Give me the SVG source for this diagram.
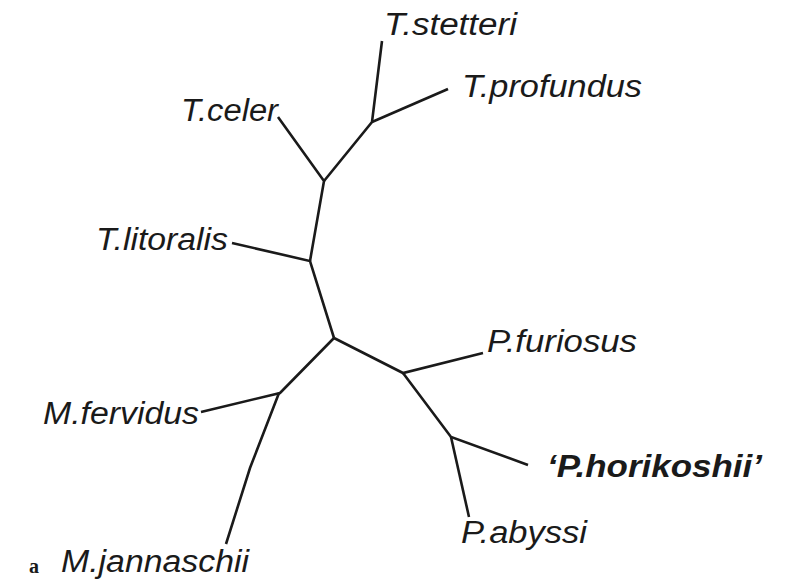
<svg xmlns="http://www.w3.org/2000/svg" width="785" height="580" viewBox="0 0 785 580">
<style>
.b{stroke:#1a1a1a;stroke-width:2.6;fill:none;stroke-linecap:butt;stroke-linejoin:miter}
.t{font-family:"Liberation Sans",Arial,sans-serif;font-style:italic;font-size:31px;fill:#1a1a1a}
.hb{font-weight:bold}
.p{font-family:"Liberation Serif","Times New Roman",serif;font-weight:bold;font-size:20px;fill:#1a1a1a}
</style>
<rect width="785" height="580" fill="#fff"/>
<g id="connectors">
<polyline class="b" points="334,338 310,261 232,243"/>
<polyline class="b" points="310,261 324,181 278,117"/>
<polyline class="b" points="324,181 372,122 382,41"/>
<line class="b" x1="372" y1="122" x2="448" y2="89"/>
<polyline class="b" points="334,338 403,373 483,353"/>
<polyline class="b" points="403,373 451,437 528,465"/>
<line class="b" x1="451" y1="437" x2="469" y2="517"/>
<polyline class="b" points="334,338 280,393 201,412"/>
<polyline class="b" points="279,393 250,468 226,544"/>
</g>
<g id="T_stetteri"><text class="t" x="384" y="35" textLength="133" lengthAdjust="spacingAndGlyphs">T.stetteri</text></g>
<g id="T_profundus"><text class="t" x="462" y="97" textLength="180" lengthAdjust="spacingAndGlyphs">T.profundus</text></g>
<g id="T_celer"><text class="t" x="181" y="121" textLength="97" lengthAdjust="spacingAndGlyphs">T.celer</text></g>
<g id="T_litoralis"><text class="t" x="96" y="250" textLength="132" lengthAdjust="spacingAndGlyphs">T.litoralis</text></g>
<g id="P_furiosus"><text class="t" x="487" y="352" textLength="150" lengthAdjust="spacingAndGlyphs">P.furiosus</text></g>
<g id="M_fervidus"><text class="t" x="43" y="424" textLength="156" lengthAdjust="spacingAndGlyphs">M.fervidus</text></g>
<g id="P_horikoshii"><text class="t hb" x="547" y="477" textLength="215" lengthAdjust="spacingAndGlyphs">‘P.horikoshii’</text></g>
<g id="P_abyssi"><text class="t" x="461" y="543" textLength="126" lengthAdjust="spacingAndGlyphs">P.abyssi</text></g>
<g id="M_jannaschii"><text class="t" x="61" y="572" textLength="188" lengthAdjust="spacingAndGlyphs">M.jannaschii</text></g>
<g id="panel_label"><text class="p" x="29" y="573">a</text></g>
</svg>
